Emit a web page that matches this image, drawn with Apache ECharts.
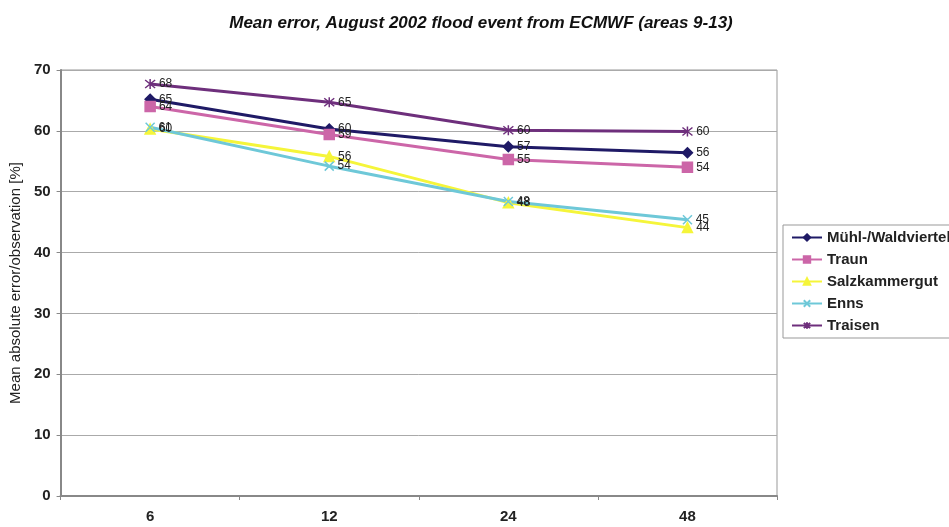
<!DOCTYPE html>
<html>
<head>
<meta charset="utf-8">
<script src="https://cdn.jsdelivr.net/npm/echarts@6/dist/echarts.min.js"></script>
<style>
  html, body { margin: 0; padding: 0; background: #fff; }
  #chart { width: 949px; height: 527px; }
</style>
</head>
<body>
<div id="chart"></div>
<script>
var categories = ['6', '12', '24', '48'];
var muehl = [65.2, 60.3, 57.4, 56.4];
var traun = [64.0, 59.4, 55.3, 54.0];
var salzkammergut = [60.3, 55.8, 48.2, 44.1];
var enns = [60.6, 54.2, 48.4, 45.4];
var traisen = [67.7, 64.7, 60.1, 59.9];

var crossPath = 'path://M0,0L10,10M10,0L0,10';
var starPath = 'path://M1,1L9,9M9,1L1,9M5,0L5,10';
var fontFam = 'Liberation Sans, Arial';

function makeSeries(name, data, color, symbol, size) {
    return {
        name: name,
        type: 'line',
        data: data,
        symbol: symbol,
        symbolSize: size,
        lineStyle: { color: color, width: 3 },
        itemStyle: { color: color, borderColor: color, borderWidth: 1.5 },
        label: {
            show: true,
            position: 'right',
            distance: 3,
            fontSize: 12,
            fontFamily: fontFam,
            color: '#222',
            formatter: function (p) { return Math.round(p.value); }
        }
    };
}

var myChart = echarts.init(document.getElementById('chart'));
var option = {
    animation: false,
    title: {
        text: 'Mean error, August 2002 flood event from ECMWF (areas 9-13)',
        left: 476, top: 10, textAlign: 'center',
        textStyle: { fontSize: 17, fontStyle: 'italic', fontWeight: 'bold', fontFamily: fontFam, color: '#111' }
    },
    grid: { left: 60, right: 172, top: 70, bottom: 31, show: true, borderColor: '#999', borderWidth: 1 },
    legend: {
        orient: 'vertical',
        left: 783, top: 225,
        itemWidth: 30, itemHeight: 8, itemGap: 7,
        borderColor: '#999', borderWidth: 1, padding: [5, 20, 5, 8],
        textStyle: { fontSize: 15, fontWeight: 'bold', fontFamily: fontFam, color: '#222' },
        data: ['Mühl-/Waldviertel', 'Traun', 'Salzkammergut', 'Enns', 'Traisen']
    },
    xAxis: {
        type: 'category',
        data: categories,
        axisLine: { lineStyle: { color: '#888', width: 2 } },
        axisTick: { show: true, length: 4, lineStyle: { color: '#888' } },
        axisLabel: { margin: 13, fontSize: 15, fontWeight: 'bold', fontFamily: fontFam, color: '#222' }
    },
    yAxis: {
        type: 'value',
        min: 0, max: 70, interval: 10,
        name: 'Mean absolute error/observation [%]',
        nameLocation: 'middle', nameGap: 33, nameRotate: 90,
        nameTextStyle: { fontSize: 15, fontFamily: fontFam, color: '#222' },
        axisLine: { show: true, lineStyle: { color: '#888', width: 2 } },
        axisTick: { show: true, length: 4, lineStyle: { color: '#888' } },
        axisLabel: { margin: 10, fontSize: 15, fontWeight: 'bold', fontFamily: fontFam, color: '#222' },
        splitLine: { lineStyle: { color: '#aaa', width: 1 } }
    },
    series: [
        makeSeries('Mühl-/Waldviertel', muehl, '#1f1a66', 'diamond', 10),
        makeSeries('Traun', traun, '#cc66a8', 'rect', 10),
        makeSeries('Salzkammergut', salzkammergut, '#f5f53a', 'triangle', 10),
        makeSeries('Enns', enns, '#6ec8d8', crossPath, 9),
        makeSeries('Traisen', traisen, '#6e2f7c', starPath, 10)
    ]
};
myChart.setOption(option);
</script>
</body>
</html>
